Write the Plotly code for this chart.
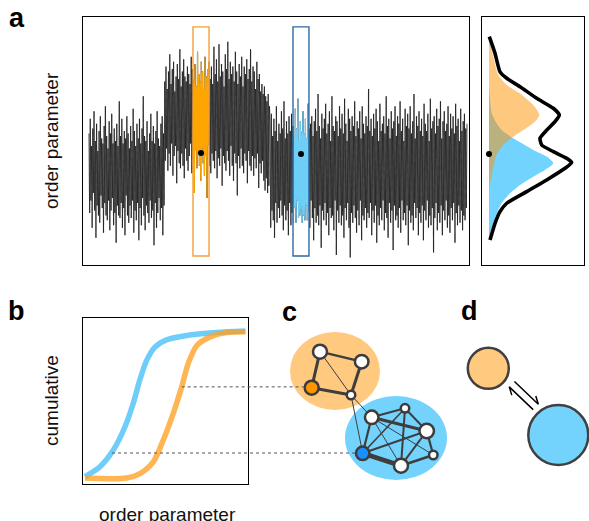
import math
import plotly.graph_objects as go

W, H = 589, 521

# ---------------- panel a: time series of the order parameter ----------------
order_param = [
    # first state (low)
    5.3, 2.1, 5.9, 2.6, 4.8, 1.5, 5.5, 2.9, 6.2, 2.2, 5.0, 1.1, 5.7, 2.4, 4.6, 2.0, 5.4, 1.7, 6.0, 2.8,
    5.1, 2.3, 4.9, 1.3, 5.6, 2.5, 6.4, 2.0, 5.2, 1.8, 4.7, 2.6, 5.8, 1.4, 5.3, 2.2, 6.1, 2.7, 4.9, 1.6,
    5.5, 2.1, 5.0, 0.9, 5.7, 2.4, 4.8, 2.0, 6.6, 1.9, 5.2, 2.5, 5.9, 1.5, 4.9, 2.3, 5.4, 1.2, 5.1, 2.8,
    6.0, 2.0, 5.3, 1.7, 4.7, 2.4, 5.6, 1.9, 5.0, 2.6, 6.3, 1.3, 5.4, 2.2, 4.8, 1.8, 5.7, 2.5, 5.1, 1.0,
    5.9, 2.3, 4.9, 1.6, 5.5, 2.7, 6.8, 2.0, 5.2, 1.4, 5.0, 2.4, 5.8, 2.1, 4.6, 1.7, 5.3, 2.6, 6.1, 1.9,
    5.0, 2.2, 5.6, 0.8, 4.9, 2.5, 5.4, 1.5, 6.2, 2.1, 5.1, 2.7, 4.8, 1.8, 5.7, 2.3, 6.0, 1.2, 5.3, 2.4,
    # second state (high)
    7.4, 4.2, 8.0, 4.7, 7.1, 3.8, 7.8, 4.5, 8.5, 4.0, 7.3, 4.9, 7.9, 3.6, 8.2, 4.4, 7.0, 4.8, 7.6, 3.3,
    8.1, 4.6, 7.5, 4.1, 8.7, 3.9, 7.2, 4.5, 7.8, 4.0, 8.3, 3.5, 7.6, 4.7, 7.4, 4.2, 8.0, 3.8, 7.7, 4.4,
    7.3, 4.9, 8.4, 3.7, 7.9, 4.3, 7.5, 2.9, 8.1, 4.6, 7.2, 3.9, 8.6, 4.5, 7.7, 4.0, 7.4, 3.4, 8.2, 4.7,
    7.8, 4.1, 7.1, 3.6, 8.4, 4.4, 7.6, 2.7, 7.9, 4.8, 8.2, 4.0, 7.5, 3.7, 8.0, 4.5, 7.3, 4.2, 8.8, 3.9,
    7.7, 4.6, 8.3, 3.5, 7.4, 4.3, 8.9, 4.0, 7.6, 4.7, 8.1, 3.2, 7.8, 4.4, 7.2, 4.1, 8.5, 3.8, 7.9, 4.6,
    9.0, 4.2, 7.5, 3.6, 8.2, 4.8, 7.7, 4.0, 8.0, 3.4, 7.4, 4.5, 8.6, 4.1, 7.8, 2.8, 7.3, 4.4, 8.1, 3.9,
    7.6, 4.7, 8.4, 4.0, 7.2, 3.7, 8.0, 4.5, 7.7, 4.2, 8.3, 3.3, 7.5, 4.6, 7.9, 4.0, 8.7, 3.8, 7.4, 4.4,
    8.0, 3.6, 7.8, 4.3, 7.1, 3.9, 8.2, 4.5, 7.5, 3.1, 7.7, 4.1, 7.0, 3.7, 7.3, 4.2, 6.9, 3.4, 7.2, 3.0,
    6.8, 3.5, 6.6, 2.9, 6.9, 3.2, 6.4,
    # third state (low)
    5.6, 1.5, 6.1, 2.2, 5.2, 1.8, 5.9, 1.1, 5.4, 2.5, 6.4, 1.7, 5.0, 2.3, 5.7, 1.9, 5.3, 2.6, 6.2, 2.0,
    5.5, 1.4, 6.6, 2.4, 5.1, 1.8, 5.8, 2.2, 5.3, 1.2, 6.0, 2.5, 5.4, 1.6, 6.1, 2.1, 5.6, 1.7, 5.2, 2.3,
    6.3, 1.7, 5.5, 2.6, 6.7, 1.9, 5.0, 2.0, 5.8, 2.2, 5.4, 1.7, 6.2, 2.0, 5.3, 1.8, 5.9, 2.4, 5.1, 1.8,
    6.5, 2.2, 5.5, 1.5, 5.7, 2.6, 6.0, 1.9, 5.2, 1.0, 5.8, 2.3, 6.3, 1.7, 5.4, 2.0, 6.9, 1.6, 5.6, 2.4,
    5.1, 0.7, 6.1, 2.2, 5.5, 1.8, 5.9, 2.5, 6.5, 1.6, 5.3, 2.1, 5.7, 1.2, 6.2, 2.3, 5.0, 1.9, 6.8, 2.0,
    5.6, 1.4, 5.4, 2.6, 6.0, 0.4, 5.8, 2.2, 5.2, 1.7, 6.4, 2.4, 5.5, 1.6, 6.1, 2.0, 5.3, 1.1, 6.7, 2.3,
    5.7, 1.8, 5.0, 2.5, 6.3, 1.5, 5.9, 0.3, 5.4, 2.1, 6.0, 1.7, 5.6, 2.4, 6.6, 1.9, 5.2, 1.3, 5.8, 2.2,
    5.5, 1.6, 6.2, 2.6, 5.1, 1.0, 6.4, 2.0, 5.7, 1.8, 5.3, 2.3, 6.0, 1.5, 5.6, 2.1, 7.1, 1.9, 5.4, 2.5,
    5.9, 1.2, 5.2, 2.2, 6.1, 1.7, 5.5, 2.4, 6.3, 0.9, 5.8, 2.0, 5.0, 1.6, 6.5, 2.3, 5.4, 1.8, 5.7, 2.6,
    6.0, 1.4, 5.3, 2.1, 6.8, 1.9, 5.6, 1.1, 5.9, 2.5, 5.1, 1.7, 6.2, 2.2, 5.5, 0.6, 5.8, 2.4, 6.4, 1.8,
    5.2, 2.0, 6.0, 1.5, 5.7, 2.3, 6.6, 1.3, 5.4, 2.6, 5.9, 1.8, 5.0, 2.1, 6.3, 1.6, 5.6, 2.4, 6.1, 0.8,
    5.5, 2.2, 6.4, 1.7, 5.3, 2.0, 5.8, 1.4, 6.9, 2.5, 5.1, 1.9, 6.0, 2.3, 5.6, 1.2, 6.2, 2.1, 5.4, 1.7,
    5.9, 2.4, 5.2, 1.0, 6.5, 2.2, 5.7, 1.8, 5.4, 2.6, 6.1, 1.5, 5.0, 2.0, 6.7, 1.6, 5.5, 2.3, 5.8, 0.5,
    6.0, 1.9, 5.3, 2.5, 6.3, 1.4, 5.6, 2.1, 5.9, 1.7, 6.6, 2.4, 5.1, 1.2, 5.8, 2.2, 6.2, 1.8, 5.4, 2.6,
    5.7, 1.5, 6.4, 2.0, 5.2, 1.3, 6.1, 2.3, 5.5, 1.8, 6.0, 2.5, 5.3, 0.9, 6.5, 2.1, 5.6, 1.6, 5.9, 2.4,
    5.0, 1.7, 6.3, 2.2, 5.4, 1.4, 5.8, 2.0, 6.1, 1.8, 5.5, 2.3, 5.7,
]
window_start = [164.8, 323.3]
window_end = [190.2, 348.6]
window_mean = [4.52, 4.48]
window_low, window_high = 0.36, 9.6
window_trace_colors = ["#FFA500", "#6DCFF6"]
window_box_colors = ["#F2A03A", "#2C6AA6"]

# ---------------- panel a (right): densities ----------------
orange_dens_y = [9.07, 8.40, 7.66, 7.26, 6.92, 6.45, 6.05, 5.78, 5.44, 5.17, 4.84, 4.45, 3.96, 3.43, 3.10]
orange_dens_x = [0.3, 4.3, 9.3, 17.7, 31.0, 44.3, 50.3, 46.0, 34.3, 24.3, 14.3, 7.5, 4.3, 1.7, 0.3]
blue_dens_y = [7.19, 6.12, 5.71, 5.38, 5.11, 4.64, 4.37, 4.10, 3.83, 3.56, 3.23, 2.89, 2.49, 2.08, 1.68, 1.28, 1.15]
blue_dens_x = [0.0, 2.7, 7.7, 14.3, 24.3, 44.3, 57.7, 64.3, 56.0, 44.3, 31.0, 21.0, 12.7, 7.7, 4.3, 1.0, 0.0]
total_dens_y = [9.21, 8.54, 7.79, 7.53, 7.19, 6.72, 6.32, 6.05, 5.78, 5.44, 5.11, 4.84, 4.57, 4.30, 4.13, 3.90, 3.43, 2.96, 2.49, 2.15, 1.68, 1.01]
total_dens_x = [0.3, 6.0, 11.0, 17.7, 31.0, 47.7, 64.3, 70.3, 66.0, 57.7, 51.0, 52.7, 64.3, 77.7, 82.7, 76.0, 57.7, 37.7, 17.7, 11.0, 6.0, 1.0]
density_dot_y = 4.48

# ---------------- panel b: cumulative curves ----------------
cum_blue_x = [0.12, 1.03, 1.84, 2.55, 3.05, 3.45, 3.86, 4.36, 5.07, 6.28, 8.10, 9.82]
cum_blue_y = [0.01, 0.077, 0.19, 0.35, 0.51, 0.67, 0.80, 0.89, 0.94, 0.97, 0.99, 1.0]
cum_orange_x = [0.12, 2.65, 3.45, 4.26, 4.87, 5.47, 5.98, 6.38, 6.89, 7.70, 8.71, 9.86]
cum_orange_y = [0.0, 0.0, 0.03, 0.11, 0.26, 0.44, 0.62, 0.78, 0.90, 0.96, 0.99, 0.995]
link_b_x = [5.98, 1.76]
link_cum = [0.62, 0.17]
link_node = [2, 7]

# ---------------- panel c: network (canvas pixel units) ----------------
node_x = [320.0, 361.7, 311.7, 351.0, 371.7, 405.0, 426.7, 362.7, 401.0, 433.3]
node_y = [351.7, 361.7, 387.7, 395.0, 417.3, 408.3, 431.0, 453.3, 465.7, 455.0]
node_size = [14, 13.5, 14, 8.5, 13.5, 8.5, 14.5, 13.5, 14, 8.5]
node_fill = ["white", "white", "#FF9500", "white", "white", "white", "white", "#1A8FFF", "white", "white"]
edges = [
    (0, 1, 2.4), (0, 2, 3.0), (0, 3, 1.0), (1, 3, 3.0), (2, 3, 3.0),
    (3, 4, 1.0), (3, 7, 1.0),
    (4, 5, 2.0), (4, 6, 3.0), (4, 7, 2.2), (4, 8, 1.0), (4, 9, 1.0),
    (5, 6, 2.0), (5, 7, 1.6), (5, 8, 2.0), (6, 7, 2.0), (6, 8, 2.0),
    (6, 9, 2.2), (7, 8, 4.8), (8, 9, 2.6),
]
cluster_cx = [335, 396]
cluster_cy = [371, 438]
cluster_rx = [45, 51]
cluster_ry = [39, 42]
cluster_fill = ["#FFC97F", "#74D3FD"]

# ---------------- panel d: two states + equilibrium harpoons ----------------
state_cx = [488.3, 558.3]
state_cy = [368.3, 435.0]
state_r = [20.5, 30.0]
state_fill = ["#FFC97F", "#74D3FD"]
eq_span = [28.0, 61.0]      # distance along the centre line from the first state
eq_offset = [8.5, 1.0]      # perpendicular offsets of the forward / backward harpoon
eq_barb = [7.5, 4.2]        # barb length along / across

FONT = "Liberation Sans, Arial, Helvetica, sans-serif"

fig = go.Figure()

# panel a: the series drawn segment by segment so that overlapping strokes build up
t = list(range(len(order_param)))
N_LAYERS = 4
for k in range(N_LAYERS):
    xs, ys = [], []
    for j in range(k, len(order_param) - 1, N_LAYERS):
        xs += [t[j], t[j + 1], None]
        ys += [order_param[j], order_param[j + 1], None]
    fig.add_trace(go.Scatter(x=xs, y=ys, mode="lines",
                             line=dict(color="rgba(18,18,18,0.7)", width=1.1),
                             xaxis="x", yaxis="y", hoverinfo="skip"))
for k in range(2):
    idx = [i for i in t if window_start[k] <= i <= window_end[k]]
    fig.add_trace(go.Scatter(x=idx, y=[order_param[i] for i in idx], mode="lines",
                             line=dict(color=window_trace_colors[k], width=1.1),
                             xaxis="x", yaxis="y", hoverinfo="skip"))
fig.add_trace(go.Scatter(x=[(window_start[k] + window_end[k]) / 2 for k in range(2)],
                         y=window_mean, mode="markers",
                         marker=dict(color="black", size=6),
                         xaxis="x", yaxis="y", hoverinfo="skip"))

# density traces
fig.add_trace(go.Scatter(x=blue_dens_x, y=blue_dens_y, mode="lines", fill="tozerox",
                         fillcolor="#72D3FE", line=dict(width=0, shape="spline", smoothing=0.6),
                         xaxis="x2", yaxis="y2", hoverinfo="skip"))
fig.add_trace(go.Scatter(x=orange_dens_x, y=orange_dens_y, mode="lines", fill="tozerox",
                         fillcolor="rgba(255,145,0,0.5)", line=dict(width=0, shape="spline", smoothing=0.6),
                         xaxis="x2", yaxis="y2", hoverinfo="skip"))
fig.add_trace(go.Scatter(x=total_dens_x, y=total_dens_y, mode="lines",
                         line=dict(color="black", width=3.6, shape="spline", smoothing=0.5),
                         xaxis="x2", yaxis="y2", hoverinfo="skip"))
fig.add_trace(go.Scatter(x=[0], y=[density_dot_y], mode="markers", cliponaxis=False,
                         marker=dict(color="black", size=6),
                         xaxis="x2", yaxis="y2", hoverinfo="skip"))

# cumulative traces
fig.add_trace(go.Scatter(x=cum_blue_x, y=cum_blue_y, mode="lines",
                         line=dict(color="rgba(95,200,250,0.9)", width=5.5, shape="spline", smoothing=0.8),
                         xaxis="x3", yaxis="y3", hoverinfo="skip"))
fig.add_trace(go.Scatter(x=cum_orange_x, y=cum_orange_y, mode="lines",
                         line=dict(color="rgba(255,160,35,0.78)", width=5.5, shape="spline", smoothing=0.8),
                         xaxis="x3", yaxis="y3", hoverinfo="skip"))

# axis geometry (pixel boxes)
A_X = (83, 469); A_Y = (17, 265)
D_X = (482, 584)
B_X = (83, 248); B_Y = (318, 484)
a_xrange = [-9.5, 602.2]
a_yrange = [0, 10]
d_xrange = [-7, 95]
b_xrange = [0, 10]
b_yrange = [-0.0408, 1.0884]


def dom_x(p):
    return [p[0] / W, p[1] / W]


def dom_y(p):
    return [1 - p[1] / H, 1 - p[0] / H]


def b_to_canvas(x, y):
    px = B_X[0] + (x - b_xrange[0]) / (b_xrange[1] - b_xrange[0]) * (B_X[1] - B_X[0])
    py = B_Y[1] - (y - b_yrange[0]) / (b_yrange[1] - b_yrange[0]) * (B_Y[1] - B_Y[0])
    return px, py


# connectors b -> c
for k in range(2):
    x0, y0 = b_to_canvas(link_b_x[k], link_cum[k])
    n = link_node[k]
    x1 = node_x[n] - node_size[n] / 2 - 1
    fig.add_trace(go.Scatter(x=[x0, x1], y=[y0, y0], mode="lines",
                             line=dict(color="#555555", width=1, dash="dot"),
                             xaxis="x4", yaxis="y4", hoverinfo="skip"))

# network edges
for a, b, w in edges:
    fig.add_trace(go.Scatter(x=[node_x[a], node_x[b]], y=[node_y[a], node_y[b]], mode="lines",
                             line=dict(color="#3E3E3E", width=w),
                             xaxis="x4", yaxis="y4", hoverinfo="skip"))
fig.add_trace(go.Scatter(x=node_x, y=node_y, mode="markers",
                         marker=dict(size=node_size, color=node_fill, opacity=1,
                                     line=dict(color="#3C3C3C", width=2.5)),
                         xaxis="x4", yaxis="y4", hoverinfo="skip"))

# equilibrium harpoons between the two states
dx = state_cx[1] - state_cx[0]
dy = state_cy[1] - state_cy[0]
L = math.hypot(dx, dy)
ux, uy = dx / L, dy / L
nx, ny = uy, -ux
for k, sign in enumerate([1, -1]):
    off = eq_offset[k]
    s0, s1 = (eq_span[0], eq_span[1]) if sign > 0 else (eq_span[1], eq_span[0])
    xs = [state_cx[0] + ux * s + nx * off for s in (s0, s1)]
    ys = [state_cy[0] + uy * s + ny * off for s in (s0, s1)]
    bx = xs[1] - sign * ux * eq_barb[0] + sign * nx * eq_barb[1]
    by = ys[1] - sign * uy * eq_barb[0] + sign * ny * eq_barb[1]
    fig.add_trace(go.Scatter(x=xs + [bx], y=ys + [by], mode="lines",
                             line=dict(color="black", width=1.5),
                             xaxis="x4", yaxis="y4", hoverinfo="skip"))

shapes = []
for k in range(2):
    shapes.append(dict(type="rect", xref="x", yref="y",
                       x0=window_start[k], x1=window_end[k], y0=window_low, y1=window_high,
                       line=dict(color=window_box_colors[k], width=1.4), layer="above"))
for k in range(2):
    shapes.append(dict(type="circle", xref="x4", yref="y4",
                       x0=cluster_cx[k] - cluster_rx[k], x1=cluster_cx[k] + cluster_rx[k],
                       y0=cluster_cy[k] - cluster_ry[k], y1=cluster_cy[k] + cluster_ry[k],
                       fillcolor=cluster_fill[k], line=dict(width=0), layer="below"))
for k in range(2):
    shapes.append(dict(type="circle", xref="x4", yref="y4",
                       x0=state_cx[k] - state_r[k], x1=state_cx[k] + state_r[k],
                       y0=state_cy[k] - state_r[k], y1=state_cy[k] + state_r[k],
                       fillcolor=state_fill[k], line=dict(color="#404040", width=2.5), layer="above"))

ann = []
for txt, x, y in [("a", 16.5, 18), ("b", 16.5, 311), ("c", 289.5, 312), ("d", 469, 311)]:
    ann.append(dict(text="<b>%s</b>" % txt, x=x / W, y=1 - y / H, xref="paper", yref="paper",
                    xanchor="center", yanchor="middle", showarrow=False,
                    font=dict(family=FONT, size=27, color="black")))
ann.append(dict(text="order parameter", x=52 / W, y=1 - 141 / H, xref="paper", yref="paper",
                textangle=-90, xanchor="center", yanchor="middle", showarrow=False,
                font=dict(family=FONT, size=19, color="#111111")))
ann.append(dict(text="cumulative", x=51 / W, y=1 - 401 / H, xref="paper", yref="paper",
                textangle=-90, xanchor="center", yanchor="middle", showarrow=False,
                font=dict(family=FONT, size=19, color="#111111")))
ann.append(dict(text="order parameter", x=167 / W, y=1 - 514 / H, xref="paper", yref="paper",
                xanchor="center", yanchor="middle", showarrow=False,
                font=dict(family=FONT, size=19, color="#111111")))

frame = dict(showticklabels=False, ticks="", showgrid=False, zeroline=False,
             showline=True, mirror=True, linecolor="black", linewidth=1.2, fixedrange=True)
hidden = dict(visible=False, showgrid=False, zeroline=False, fixedrange=True)

fig.update_layout(
    width=W, height=H, margin=dict(l=0, r=0, t=0, b=0),
    paper_bgcolor="white", plot_bgcolor="rgba(0,0,0,0)", showlegend=False,
    xaxis=dict(domain=dom_x(A_X), range=a_xrange, **frame),
    yaxis=dict(domain=dom_y(A_Y), range=a_yrange, **frame),
    xaxis2=dict(domain=dom_x(D_X), range=d_xrange, anchor="y2", **frame),
    yaxis2=dict(domain=dom_y(A_Y), range=a_yrange, anchor="x2", **frame),
    xaxis3=dict(domain=dom_x(B_X), range=b_xrange, anchor="y3", **frame),
    yaxis3=dict(domain=dom_y(B_Y), range=b_yrange, anchor="x3", **frame),
    xaxis4=dict(domain=[0, 1], range=[0, W], anchor="y4", **hidden),
    yaxis4=dict(domain=[0, 1], range=[H, 0], anchor="x4", **hidden),
    shapes=shapes, annotations=ann,
)

fig.write_html("out.html", config={"displayModeBar": False})
